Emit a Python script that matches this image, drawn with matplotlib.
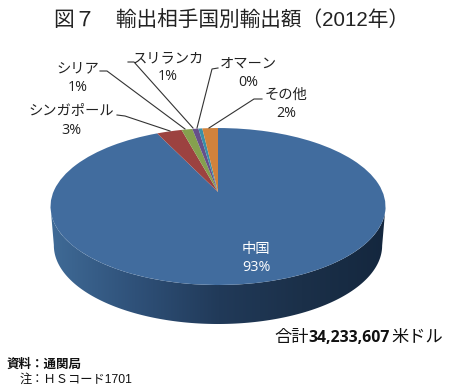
import numpy as np
import matplotlib
matplotlib.use('Agg')
import matplotlib.pyplot as plt
from matplotlib.colors import LinearSegmentedColormap
from matplotlib.patches import Polygon
from matplotlib.transforms import Transform

names = ['中国', 'シンガポール', 'シリア', 'スリランカ', 'オマーン', 'その他']
values = [92.9, 2.9, 1.25, 0.7, 0.45, 1.8]
colors = ['#416c9e', '#9c4240', '#85a04e', '#66508a', '#3a8fa8', '#d0823c']
side_colors = ['#3f6a96', '#2f5179', '#213a59', '#1b3049', '#14273e']

W, H = 452, 392
cx, apex_y, sx, sy, k = 218, 192, 164.6, 75.8, 0.185
depth = 39
shrink = 0.98


class Tilt(Transform):
    # unit circle seen in perspective, result in pixels
    input_dims = 2
    output_dims = 2

    def transform_non_affine(self, xy):
        xy = np.asarray(xy, dtype=float)
        w = 1 + k * xy[:, 1]
        return np.column_stack([cx + sx * xy[:, 0] / w, apex_y - sy * xy[:, 1] / w])


fig = plt.figure(figsize=(W / 100, H / 100), dpi=100)
ax = fig.add_axes([0, 0, 1, 1])
wedges, _ = ax.pie(values, colors=colors, startangle=90, counterclock=False,
                   radius=1, wedgeprops={'linewidth': 0})
tilt = Tilt()
for w in wedges:
    w.set_transform(tilt + ax.transData)
    w.set_zorder(2)
ax.set_aspect('auto')
ax.set_xlim(0, W)
ax.set_ylim(H, 0)
ax.axis('off')

# side wall: lower half of the rim and the same rim moved down
t = np.linspace(0, 2 * np.pi, 400)
rim = tilt.transform_non_affine(np.column_stack([np.cos(t), np.sin(t)]))
left, right = rim[:, 0].argmin(), rim[:, 0].argmax()
idx = np.arange(left, right + 1) if left < right else np.r_[left:len(t), 0:right + 1]
low = rim[idx]
low2 = np.column_stack([cx + (low[:, 0] - cx) * shrink, low[:, 1] + depth])
side = Polygon(np.vstack([low, low2[::-1]]), closed=True, fc='none', ec='none',
               transform=ax.transData)
ax.add_patch(side)
im = ax.imshow(np.linspace(0, 1, 256)[None, :],
               cmap=LinearSegmentedColormap.from_list('side', side_colors),
               aspect='auto', extent=(51, 386, 330, 200), zorder=1)
im.set_clip_path(side)
ax.set_xlim(0, W)
ax.set_ylim(H, 0)

label_font = ['Open Sans', 'Noto Sans CJK JP']
head_font = ['Liberation Sans', 'Noto Sans CJK JP']

ax.text(232, 20, '図７　輸出相手国別輸出額（2012年）', fontsize=14.9, ha='center', va='center',
        color='#222222', family=head_font)

labels = [f'{n}\n{v:.0f}%' for n, v in zip(names, values)]
lab_pos = [(256, 258.5), (71, 121), (78, 78), (168, 67.5), (248, 73.5), (286, 104)]
leaders = [None,
           [(117, 115), (125, 116), (170, 131)],
           [(100, 71), (107, 71), (185, 129)],
           [(128, 62), (134, 62), (193, 128)],
           [(218, 68), (212, 69), (197, 128)],
           [(262, 99), (254, 99), (209, 128)]]
for i, lab in enumerate(labels):
    c = 'white' if i == 0 else '#222222'
    ax.text(lab_pos[i][0], lab_pos[i][1], lab, fontsize=10.3, ha='center', va='center',
            color=c, linespacing=1.3, family=label_font, zorder=5)
    if leaders[i]:
        ax.plot(*zip(*leaders[i]), color='#333333', lw=0.8, zorder=4)

# total is set in three pieces, the figure is bold
ax.text(274, 338, '合計', fontsize=12.4, ha='left', va='center', color='#111111', family=label_font)
ax.text(308, 338, '34,233,607', fontsize=11.4, ha='left', va='center', color='#111111',
        family=label_font, fontweight='bold')
ax.text(443, 338, '米ドル', fontsize=12.4, ha='right', va='center', color='#111111', family=label_font)

ax.text(7, 365, '資料：通関局', fontsize=9, ha='left', va='center', color='#111111',
        family=head_font, fontweight='bold')
ax.text(20, 380, '注：ＨＳコード1701', fontsize=8.8, ha='left', va='center', color='#111111', family=head_font)

fig.savefig('out.png', dpi=100)
